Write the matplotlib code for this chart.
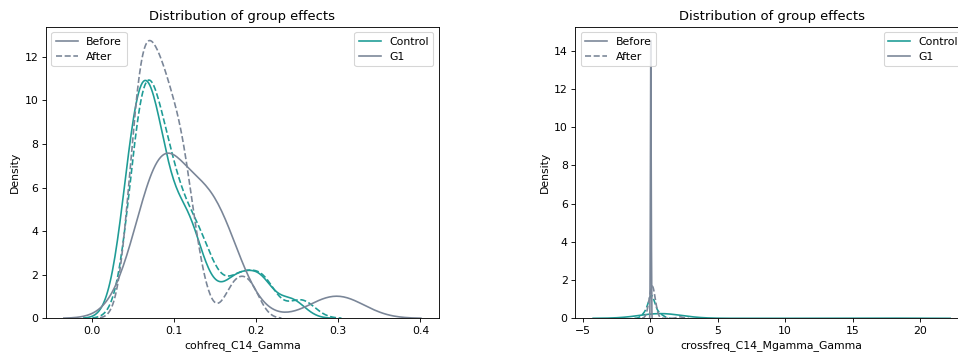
import matplotlib
matplotlib.use("Agg")
import matplotlib.pyplot as plt
from matplotlib.lines import Line2D
import seaborn as sns

# Group effects per subject, before and after, for the two features
cohfreq_control_before = [0.0393, 0.0466, 0.0472, 0.0504, 0.0538, 0.0563, 0.0569, 0.0583, 0.0632, 0.0638,
                          0.0696, 0.0704, 0.0713, 0.0774, 0.0807, 0.0820, 0.0832, 0.0920, 0.0921, 0.1059,
                          0.1149, 0.1172, 0.1172, 0.1251, 0.1429, 0.1716, 0.1797, 0.2035, 0.2060, 0.2432]
cohfreq_control_after = [0.0495, 0.0571, 0.0573, 0.0575, 0.0591, 0.0624, 0.0630, 0.0651, 0.0664, 0.0673,
                         0.0741, 0.0750, 0.0820, 0.0842, 0.0877, 0.0886, 0.0950, 0.0992, 0.1012, 0.1089,
                         0.1191, 0.1259, 0.1265, 0.1374, 0.1489, 0.1755, 0.1837, 0.2057, 0.2113, 0.2552]
cohfreq_g1_before = [0.0557, 0.0809, 0.0811, 0.0812, 0.0816, 0.0832, 0.0833, 0.0843, 0.0849, 0.0863,
                     0.0887, 0.0905, 0.1130, 0.1332, 0.1389, 0.1402, 0.1425, 0.1476, 0.1501, 0.1534,
                     0.1535, 0.1734, 0.2852, 0.3109]
cohfreq_g1_after = [0.0480, 0.0508, 0.0556, 0.0589, 0.0607, 0.0609, 0.0675, 0.0683, 0.0708, 0.0760,
                    0.0794, 0.0833, 0.0862, 0.0896, 0.0898, 0.0955, 0.1041, 0.1055, 0.1086, 0.1130,
                    0.1180, 0.1303, 0.1730, 0.1929]

crossfreq_control_before = [0.45, 0.48, 0.50, 0.53, 0.55, 0.58, 0.60, 0.62, 0.64, 0.66, 0.68, 0.70, 0.72,
                            0.74, 0.75, 0.77, 0.79, 0.81, 0.83, 0.85, 0.87, 0.89, 0.92, 0.95, 0.98, 1.01,
                            1.04, 1.07, 1.10, 17.55]
crossfreq_control_after = [-0.62, -0.45, -0.35, -0.27, -0.20, -0.14, -0.09, -0.05, -0.02, 0.01, 0.03, 0.05,
                           0.07, 0.09, 0.10, 0.11, 0.13, 0.15, 0.17, 0.20, 0.23, 0.26, 0.30, 0.35, 0.41,
                           0.48, 0.56, 0.66, 0.80, 1.00]
crossfreq_g1_before = [0.007, 0.016, 0.023, 0.029, 0.033, 0.036, 0.040, 0.043, 0.045, 0.047, 0.050, 0.052,
                       0.054, 0.056, 0.058, 0.062, 0.065, 0.068, 0.073, 0.077, 0.083, 0.090, 0.098, 0.111]
crossfreq_g1_after = [0.070, 0.085, 0.095, 0.105, 0.115, 0.120, 0.130, 0.135, 0.140, 0.145, 0.150, 0.155,
                      0.160, 0.165, 0.170, 0.175, 0.180, 0.190, 0.200, 0.210, 0.220, 0.235, 0.250, 2.200]

groups = ["Control", "G1"]
phases = ["Before", "After"]
features = ["cohfreq_C14_Gamma", "crossfreq_C14_Mgamma_Gamma"]

COLORS = {"Control": "#1f9c96", "G1": "#7a8698"}
STYLES = {"Before": "-", "After": "--"}

# (values, kernel bandwidth adjustment) per group and phase
panels = [
    {("Control", "Before"): (cohfreq_control_before, 0.60),
     ("Control", "After"): (cohfreq_control_after, 0.60),
     ("G1", "Before"): (cohfreq_g1_before, 0.9046),
     ("G1", "After"): (cohfreq_g1_after, 0.6605)},
    {("Control", "Before"): (crossfreq_control_before, 1.0),
     ("Control", "After"): (crossfreq_control_after, 1.0),
     ("G1", "Before"): (crossfreq_g1_before, 1.0),
     ("G1", "After"): (crossfreq_g1_after, 1.0)},
]

W, H, DPI = 958, 356, 78.5
fig = plt.figure(figsize=(W / DPI, H / DPI), dpi=DPI)
ax_w, ax_h = 392.7 / W, 291.6 / H
ax_y = 37.7 / H
axes = [fig.add_axes([46.0 / W, ax_y, ax_w, ax_h]),
        fig.add_axes([575.3 / W, ax_y, ax_w, ax_h])]

for ax, feature, panel in zip(axes, features, panels):
    for group in groups:
        for phase in phases:
            values, bw = panel[(group, phase)]
            sns.kdeplot(x=values, ax=ax, bw_adjust=bw, color=COLORS[group],
                        linestyle=STYLES[phase], linewidth=1.5)
    ax.set_title("Distribution of group effects")
    ax.set_xlabel(feature)
    ax.set_ylabel("Density")

    phase_handles = [Line2D([], [], color=COLORS["G1"], linestyle=STYLES[p], linewidth=1.5) for p in phases]
    leg1 = ax.legend(phase_handles, phases, loc="upper left")
    ax.add_artist(leg1)
    group_handles = [Line2D([], [], color=COLORS[g], linewidth=1.5) for g in groups]
    ax.legend(group_handles, groups, loc="upper right")

fig.savefig("out.png", dpi=DPI)
